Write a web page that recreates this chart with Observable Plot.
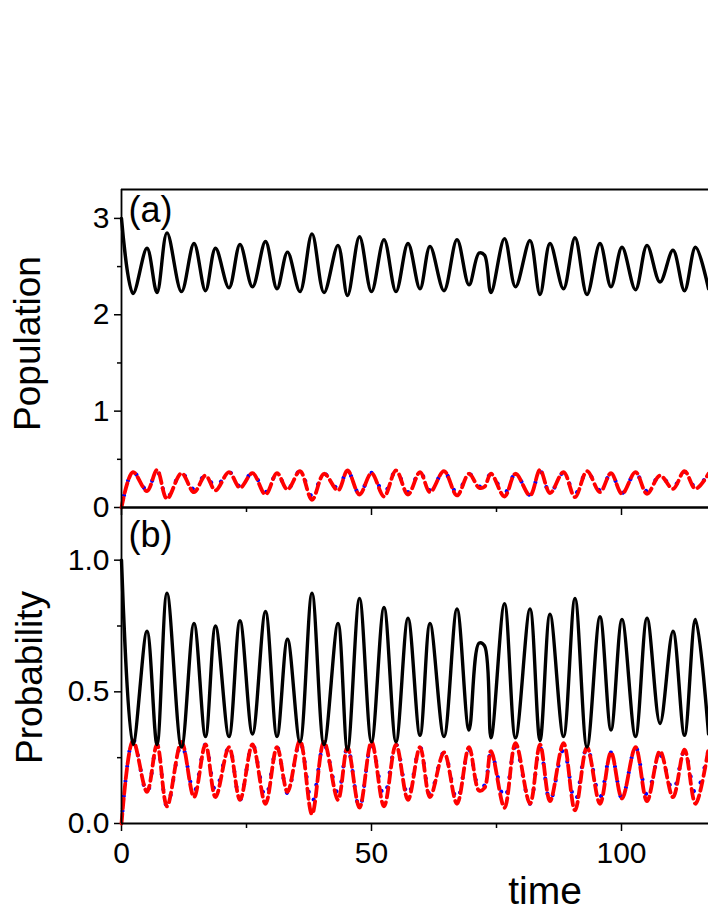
<!DOCTYPE html>
<html>
<head>
<meta charset="utf-8">
<script src="https://cdn.jsdelivr.net/npm/d3@7"></script>
<script src="https://cdn.jsdelivr.net/npm/@observablehq/plot@0.6"></script>
<style>
  html, body { margin: 0; padding: 0; background: #fff; overflow: hidden; }
  #wrap { position: relative; width: 708px; height: 917px; }
  #top, #bot { position: absolute; left: 0; }
  #top { top: 0; }
  #bot { top: 497px; }
  #wrap g[aria-label$="tick label"] { font-size: 30px !important; font-family: "Liberation Sans", Arial, sans-serif; }
</style>
</head>
<body>
<div id="wrap"><div id="top"></div><div id="bot"></div></div>
<script>
// ---- data ----
const time = [0, 2.3, 5.1, 7.1, 9.1, 12.0, 14.5, 16.8, 18.8, 21.5, 23.7, 26.2, 28.8, 31.1, 33.2, 35.7, 38.1, 40.5, 43.3, 45.2, 47.6, 50.0, 52.5, 54.9, 57.3, 59.7, 61.7, 64.5, 67.1, 69.5, 71.5, 72.6, 73.9, 76.6, 78.8, 81.7, 83.7, 85.7, 88.4, 90.7, 93.1, 95.7, 97.9, 100.1, 102.8, 105.1, 107.7, 110.3, 112.6, 114.8, 117.4];

// panel (a) Population
const popBlack = [3.0, 2.22, 2.69, 2.23, 2.85, 2.24, 2.74, 2.25, 2.69, 2.28, 2.73, 2.29, 2.76, 2.27, 2.65, 2.24, 2.84, 2.23, 2.72, 2.20, 2.81, 2.24, 2.78, 2.24, 2.74, 2.27, 2.71, 2.25, 2.78, 2.31, 2.64, 2.62, 2.23, 2.79, 2.29, 2.77, 2.21, 2.74, 2.27, 2.80, 2.21, 2.74, 2.29, 2.70, 2.26, 2.72, 2.34, 2.67, 2.25, 2.70, 2.27];
const popRed = [0, 0.367, 0.17, 0.39, 0.09, 0.356, 0.159, 0.332, 0.177, 0.367, 0.205, 0.356, 0.135, 0.356, 0.187, 0.377, 0.08, 0.35, 0.177, 0.384, 0.135, 0.356, 0.114, 0.384, 0.135, 0.367, 0.159, 0.377, 0.125, 0.35, 0.205, 0.215, 0.35, 0.114, 0.35, 0.125, 0.39, 0.149, 0.367, 0.107, 0.377, 0.159, 0.356, 0.142, 0.367, 0.142, 0.332, 0.194, 0.377, 0.194, 0.35];
const popBlue = [0, 0.37, 0.18, 0.38, 0.10, 0.36, 0.19, 0.34, 0.21, 0.37, 0.22, 0.36, 0.16, 0.35, 0.19, 0.38, 0.12, 0.35, 0.20, 0.38, 0.14, 0.36, 0.15, 0.38, 0.16, 0.37, 0.18, 0.37, 0.15, 0.35, 0.22, 0.24, 0.35, 0.15, 0.35, 0.13, 0.38, 0.15, 0.36, 0.14, 0.37, 0.18, 0.35, 0.15, 0.36, 0.17, 0.33, 0.21, 0.37, 0.21, 0.35];

// panel (b) Probability
const probBlack = [1.0, 0.30, 0.73, 0.30, 0.875, 0.29, 0.76, 0.33, 0.75, 0.33, 0.77, 0.34, 0.805, 0.33, 0.70, 0.31, 0.875, 0.30, 0.76, 0.28, 0.855, 0.31, 0.82, 0.31, 0.78, 0.335, 0.76, 0.33, 0.815, 0.355, 0.685, 0.675, 0.325, 0.835, 0.325, 0.815, 0.315, 0.795, 0.33, 0.855, 0.29, 0.785, 0.355, 0.775, 0.33, 0.78, 0.38, 0.73, 0.335, 0.775, 0.34];
const probRed = [0, 0.315, 0.12, 0.30, 0.065, 0.31, 0.10, 0.30, 0.10, 0.29, 0.09, 0.30, 0.075, 0.29, 0.12, 0.315, 0.035, 0.31, 0.09, 0.29, 0.06, 0.31, 0.065, 0.30, 0.09, 0.29, 0.10, 0.27, 0.075, 0.29, 0.125, 0.135, 0.275, 0.06, 0.305, 0.075, 0.30, 0.085, 0.305, 0.05, 0.29, 0.075, 0.27, 0.095, 0.29, 0.085, 0.275, 0.10, 0.28, 0.075, 0.285];
const probBlue = [0, 0.32, 0.115, 0.30, 0.065, 0.30, 0.12, 0.30, 0.125, 0.29, 0.09, 0.30, 0.10, 0.29, 0.115, 0.31, 0.08, 0.30, 0.115, 0.29, 0.06, 0.30, 0.105, 0.30, 0.105, 0.29, 0.11, 0.27, 0.09, 0.28, 0.135, 0.145, 0.27, 0.095, 0.29, 0.075, 0.29, 0.085, 0.28, 0.085, 0.29, 0.10, 0.27, 0.095, 0.29, 0.11, 0.26, 0.125, 0.275, 0.115, 0.28];

// axes
const xDomain = [0, 117.4];
const xMajor = [0, 50, 100];
const xMinor = [25, 75];
const popDomain = [0, 3.3];
const popMajor = [0, 1, 2, 3];
const popMinor = [0.5, 1.5, 2.5];
const probDomain = [0, 1.2];
const probMajor = [0, 0.5, 1.0];
const probMinor = [0.25, 0.75];
const labels = { a: "(a)", b: "(b)", yA: "Population", yB: "Probability", x: "time" };

// ---- helpers ----
const rows = (ys) => time.map((t, i) => ({ t, v: ys[i] }));
const FONT = '"Liberation Sans", Arial, Helvetica, sans-serif';
const blank = () => "";
const TICK_FS = 30;

function curves(black, red, blue) {
  return [
    Plot.line(rows(blue), { x: "t", y: "v", stroke: "#0000ff", strokeWidth: 4, strokeDasharray: "0.1,14.9", strokeDashoffset: -12.5, strokeLinecap: "round", curve: "catmull-rom" }),
    Plot.line(rows(red), { x: "t", y: "v", stroke: "#ff0000", strokeWidth: 3.8, strokeDasharray: "10,5", curve: "catmull-rom" }),
    Plot.line(rows(black), { x: "t", y: "v", stroke: "#000000", strokeWidth: 3.4, strokeLinejoin: "round", curve: "catmull-rom" })
  ];
}

// ---- panel (a) ----
const topPlot = Plot.plot({
  width: 708, height: 517,
  marginTop: 189, marginBottom: 10, marginLeft: 121, marginRight: 0,
  style: { fontFamily: FONT, fontSize: TICK_FS + "px", color: "#000", background: "#fff", overflow: "visible" },
  x: { domain: xDomain, axis: null },
  y: { domain: popDomain, axis: null },
  marks: [
    Plot.axisY({ ticks: popMajor, tickSize: 7, tickPadding: 5, tickFormat: d3.format("d"), label: null, fontSize: TICK_FS, strokeWidth: 1.5 }),
    Plot.axisY({ ticks: popMinor, tickSize: 4, tickFormat: blank, label: null, strokeWidth: 1.5 }),
    Plot.axisX({ ticks: xMajor, tickSize: 8, tickFormat: blank, label: null, strokeWidth: 1.5 }),
    Plot.axisX({ ticks: xMinor, tickSize: 5, tickFormat: blank, label: null, strokeWidth: 1.5 }),
    ...curves(popBlack, popRed, popBlue),
    Plot.ruleX([xDomain[0]], { stroke: "#000", strokeWidth: 1.8 }),
    Plot.ruleY([popDomain[1]], { stroke: "#000", strokeWidth: 2 }),
    Plot.ruleY([popDomain[0]], { stroke: "#000", strokeWidth: 2.6 }),
    Plot.text([labels.a], { frameAnchor: "top-left", textAnchor: "start", lineAnchor: "top", dx: 7, dy: 7, fontSize: 36, fill: "#000" }),
    Plot.text([labels.yA], { frameAnchor: "left", textAnchor: "middle", lineAnchor: "middle", rotate: -90, dx: -93, dy: -5, fontSize: 37, fill: "#000" })
  ]
});
document.getElementById("top").append(topPlot);

// ---- panel (b) ----
const botPlot = Plot.plot({
  width: 708, height: 420,
  marginTop: 10, marginBottom: 94, marginLeft: 121, marginRight: 0,
  style: { fontFamily: FONT, fontSize: TICK_FS + "px", color: "#000", background: "transparent", overflow: "visible" },
  x: { domain: xDomain, axis: null },
  y: { domain: probDomain, axis: null },
  marks: [
    Plot.axisY({ ticks: probMajor, tickSize: 7, tickPadding: 5, tickFormat: d3.format(".1f"), label: null, fontSize: TICK_FS, strokeWidth: 1.5 }),
    Plot.axisY({ ticks: probMinor, tickSize: 4, tickFormat: blank, label: null, strokeWidth: 1.5 }),
    Plot.axisX({ ticks: xMajor, tickSize: 8, tickPadding: 10, tickFormat: d3.format("d"), label: null, fontSize: TICK_FS, strokeWidth: 1.5 }),
    Plot.axisX({ ticks: xMinor, tickSize: 5, tickFormat: blank, label: null, strokeWidth: 1.5 }),
    ...curves(probBlack, probRed, probBlue),
    Plot.ruleX([xDomain[0]], { stroke: "#000", strokeWidth: 1.8 }),
    Plot.ruleY([probDomain[0]], { stroke: "#000", strokeWidth: 2 }),
    Plot.text([labels.b], { frameAnchor: "top-left", textAnchor: "start", lineAnchor: "top", dx: 7, dy: 14, fontSize: 36, fill: "#000" }),
    Plot.text([labels.yB], { frameAnchor: "left", textAnchor: "middle", lineAnchor: "middle", rotate: -90, dx: -91, dy: 12, fontSize: 37, fill: "#000" }),
    Plot.text([labels.x], { frameAnchor: "bottom", textAnchor: "middle", lineAnchor: "middle", dx: 130, dy: 68, fontSize: 39, fill: "#000" })
  ]
});
document.getElementById("bot").append(botPlot);
</script>
</body>
</html>
